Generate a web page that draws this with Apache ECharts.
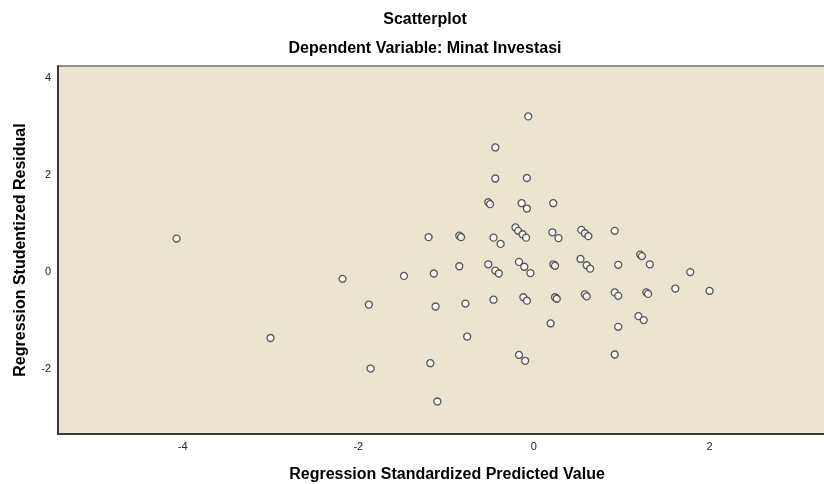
<!DOCTYPE html>
<html>
<head>
<meta charset="utf-8">
<script src="https://cdn.jsdelivr.net/npm/echarts@6/dist/echarts.min.js"></script>
<style>
  html, body { margin: 0; padding: 0; background: #fff; }
  #chart { width: 824px; height: 484px; }
</style>
</head>
<body>
<div id="chart"></div>
<script>
// standardized predicted value (x) / studentized residual (y)
var predicted = [
  -4.07, -3.00, -2.18, -1.88, -1.86, -1.48, -1.20, -1.18, -1.14, -1.12, -1.10,
  -0.85, -0.83, -0.85, -0.78, -0.76,
  -0.065, -0.44, -0.44, -0.08, -0.52, -0.50, -0.14, -0.08, 0.22,
  -0.46, -0.38, -0.21, -0.18, -0.13, -0.09, 0.21, 0.28, 0.54, 0.58, 0.62, 0.92,
  -0.52, -0.44, -0.40, -0.17, -0.11, -0.04, 0.22, 0.24, 0.53, 0.60, 0.64, 0.96,
  -0.46, -0.12, -0.08, 0.24, 0.26, 0.58, 0.60, 0.92, 0.96, 1.28, 1.30, 1.61, 2.00,
  1.78, 1.21, 1.23, 1.32,
  0.19, 0.96, 1.19, 1.25,
  -0.17, -0.10, 0.92
];
var residual = [
  0.69, -1.36, -0.14, -0.67, -1.99, -0.08, 0.72, -1.88, -0.03, -0.71, -2.67,
  0.75, 0.72, 0.12, -0.65, -1.33,
  3.21, 2.57, 1.93, 1.94, 1.44, 1.40, 1.42, 1.31, 1.42,
  0.71, 0.58, 0.92, 0.85, 0.78, 0.71, 0.82, 0.70, 0.87, 0.80, 0.74, 0.85,
  0.16, 0.03, -0.03, 0.21, 0.11, -0.02, 0.16, 0.13, 0.27, 0.14, 0.07, 0.15,
  -0.57, -0.52, -0.59, -0.52, -0.55, -0.46, -0.50, -0.42, -0.49, -0.42, -0.45, -0.34, -0.39,
  0.00, 0.36, 0.33, 0.16,
  -1.06, -1.13, -0.91, -0.99,
  -1.71, -1.83, -1.70
];
var xTicks = [-4, -2, 0, 2];
var yTicks = [-2, 0, 2, 4];

var points = [];
for (var i = 0; i < predicted.length; i++) {
    points.push([predicted[i], residual[i]]);
}

var myChart = echarts.init(document.getElementById('chart'));
var option = {
    backgroundColor: '#fff',
    title: [
        {
            text: 'Scatterplot',
            left: 420, top: 7, textAlign: 'center',
            textStyle: { fontFamily: 'Liberation Sans', fontSize: 16, fontWeight: 'bold', color: '#000' }
        },
        {
            text: 'Dependent Variable: Minat Investasi',
            left: 420, top: 36, textAlign: 'center',
            textStyle: { fontFamily: 'Liberation Sans', fontSize: 16, fontWeight: 'bold', color: '#000' }
        }
    ],
    grid: {
        left: 58, right: -12, top: 66, bottom: 50,
        outerBoundsMode: 'none',
        containLabel: false,
        show: true,
        backgroundColor: '#EAE4D0',
        borderColor: '#707070',
        borderWidth: 1.5
    },
    xAxis: {
        type: 'value',
        min: -5.42, max: 3.44,
        name: 'Regression Standardized Predicted Value',
        nameLocation: 'middle',
        nameGap: 33,
        nameTextStyle: { fontFamily: 'Liberation Sans', fontSize: 16, fontWeight: 'bold', color: '#000' },
        axisLine: { show: true, onZero: false, lineStyle: { color: '#3a3a3a', width: 2 } },
        axisTick: { show: false },
        splitLine: { show: false },
        axisLabel: {
            customValues: xTicks,
            margin: 7,
            fontFamily: 'Liberation Sans', fontSize: 11, color: '#222'
        }
    },
    yAxis: {
        type: 'value',
        min: -3.34, max: 4.25,
        name: 'Regression Studentized Residual',
        nameLocation: 'middle',
        nameGap: 29,
        nameTextStyle: { fontFamily: 'Liberation Sans', fontSize: 16, fontWeight: 'bold', color: '#000' },
        axisLine: { show: true, onZero: false, lineStyle: { color: '#3a3a3a', width: 2 } },
        axisTick: { show: false },
        splitLine: { show: false },
        axisLabel: {
            customValues: yTicks,
            margin: 7,
            fontFamily: 'Liberation Sans', fontSize: 11, color: '#222'
        }
    },
    series: [
        {
            type: 'scatter',
            data: points,
            symbol: 'circle',
            symbolSize: 7,
            itemStyle: { color: '#fff', borderColor: '#333', borderWidth: 1.3 },
            silent: true
        }
    ]
};
myChart.setOption(option);
</script>
</body>
</html>
